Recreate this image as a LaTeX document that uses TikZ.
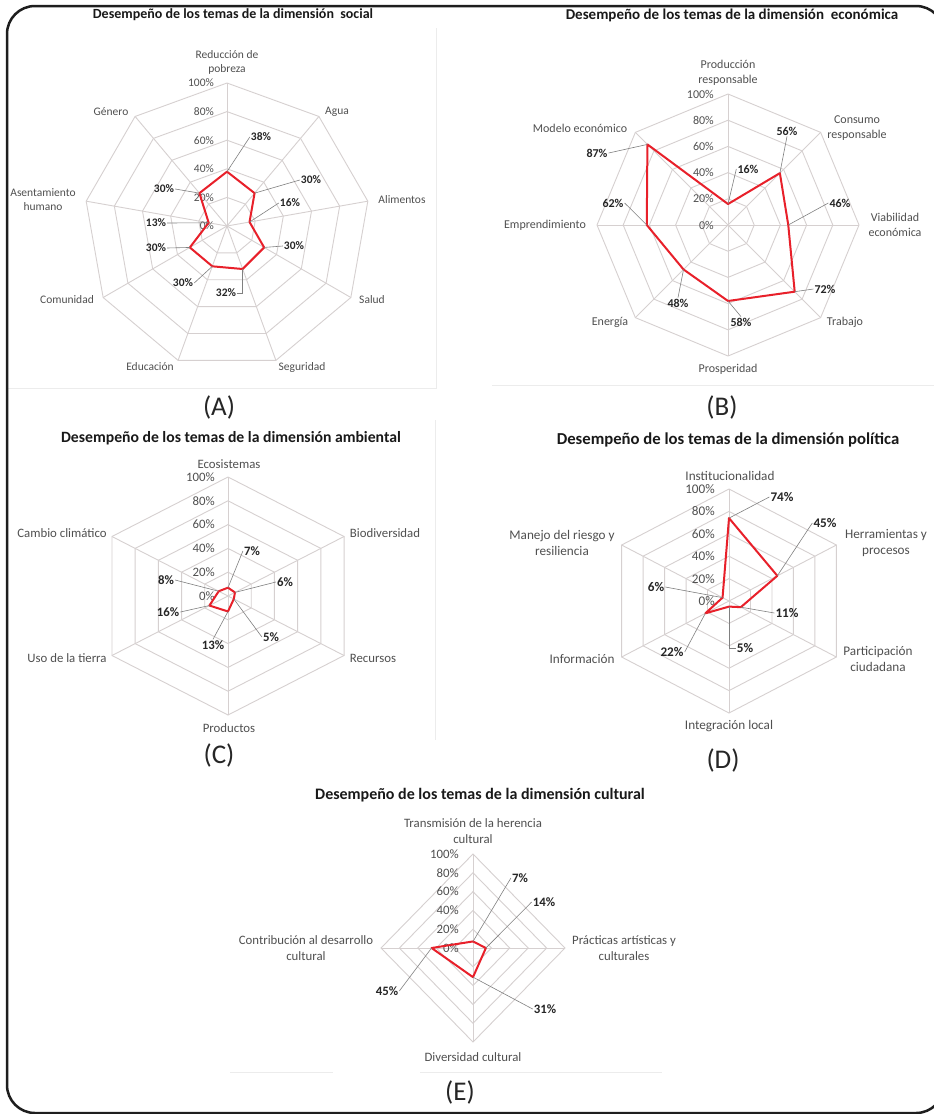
\documentclass[tikz,border=0pt]{standalone}
\usepackage{fontspec}
\setmainfont{Carlito}
\definecolor{webgray}{HTML}{D6D0D0}
\definecolor{labgray}{HTML}{505050}
\definecolor{leadgray}{HTML}{808080}
\definecolor{polyred}{HTML}{E8202A}
\definecolor{framegray}{HTML}{1E1E1E}
\definecolor{areagray}{HTML}{ECECEC}
\begin{document}
\begin{tikzpicture}[x=1pt, y=-1pt,
    webline/.style = {webgray, line width=0.9pt},
    datapoly/.style = {polyred, line width=2pt, line join=round},
    leader/.style = {leadgray, line width=0.6pt},
    axlab/.style = {text=labgray, align=center, inner sep=0pt, font=\fontsize{\fs}{\fb}\selectfont},
    ticklab/.style = {text=labgray, anchor=east, inner sep=0pt, font=\fontsize{\fs}{\fb}\selectfont},
    vallab/.style = {text=black!85, inner sep=1pt, font=\bfseries\fontsize{\fs}{\fb}\selectfont},
    ctitle/.style = {text=black!90, font=\bfseries\fontsize{#1}{#1}\selectfont},
    panel/.style = {text=black!85, font=\fontsize{27}{27}\selectfont}]
\clip (0,0) rectangle (934,1114);
\fill[white] (0,0) rectangle (934,1114);
\draw[areagray] (8,388) -- (436,388) -- (436,28);
\draw[areagray] (492,385) -- (934,385);
\draw[areagray] (435,420) -- (435,740);
\draw[areagray] (230,1072) -- (333,1072) (420,1072) -- (662,1072);
\draw[framegray, line width=2.5pt, rounded corners=28] (7,6) rectangle (944,1113);

% (A) social
\def\fs{11.5}\def\fb{14}
\node[ctitle=14] (tsoc) at (233,15) {Desempeño de los temas de la dimensión~ social};
\begin{scope}[shift={(227,226)}]
    \foreach \f in {0.2,0.4,0.6,0.8,1}
        \draw[webline] (0,{-143*\f}) \foreach \k in {1,...,8}{ -- ({143*\f*cos(40*\k-90)},{143*\f*sin(40*\k-90)})} -- cycle;
    \foreach \k in {0,...,8}
        \draw[webline] (0,0) -- ({143*cos(40*\k-90)},{143*sin(40*\k-90)});
    \foreach \v [count=\k from 0] in {38,30,16,30,32,30,30,13,30}
        \coordinate (s\k) at ({1.43*\v*cos(40*\k-90)},{1.43*\v*sin(40*\k-90)});
\end{scope}
\foreach \t in {0,20,...,100}
    \node[ticklab] at (214,{226-1.43*\t}) {\t\%};
\draw[datapoly] (s0) \foreach \k in {1,...,8}{ -- (s\k)} -- cycle;
\node[axlab] (sa0) at (227,62) {Reducción de\\pobreza};
\node[axlab] (sa1) at (337,112) {Agua};
\node[axlab] (sa2) at (402,200) {Alimentos};
\node[axlab] (sa3) at (372,300) {Salud};
\node[axlab] (sa4) at (302,367) {Seguridad};
\node[axlab] (sa5) at (150,367) {Educación};
\node[axlab] (sa6) at (67,300) {Comunidad};
\node[axlab] (sa7) at (43,200) {Asentamiento\\humano};
\node[axlab] (sa8) at (111,112) {Género};
\foreach \k/\x/\y/\v/\side in {0/261/137/38/west, 1/311/180/30/west, 2/290/203/16/west,
        3/294/246/30/west, 5/183/283/30/east, 6/156/248/30/east, 7/156/223/13/east, 8/164/189/30/east}{
    \node[vallab] (vs\k) at (\x,\y) {\v\%};
    \draw[leader] (s\k) -- (vs\k.\side);
}
\node[vallab] (vs4) at (226,293) {32\%};
\draw[leader] (s4) |- (vs4.east);
\node[panel] (pA) at (219,407) {(A)};

% (B) economica
\def\fs{12}\def\fb{15}
\node[ctitle=15] (teco) at (732,15) {Desempeño de los temas de la dimensión~ económica};
\begin{scope}[shift={(728,225)}]
    \foreach \f in {0.2,0.4,0.6,0.8,1}
        \draw[webline] (0,{-131*\f}) \foreach \k in {1,...,7}{ -- ({131*\f*cos(45*\k-90)},{131*\f*sin(45*\k-90)})} -- cycle;
    \foreach \k in {0,...,7}
        \draw[webline] (0,0) -- ({131*cos(45*\k-90)},{131*sin(45*\k-90)});
    \foreach \v [count=\k from 0] in {16,56,46,72,58,48,62,87}
        \coordinate (e\k) at ({1.31*\v*cos(45*\k-90)},{1.31*\v*sin(45*\k-90)});
\end{scope}
\foreach \t in {0,20,...,100}
    \node[ticklab] at (714,{225-1.31*\t}) {\t\%};
\draw[datapoly] (e0) \foreach \k in {1,...,7}{ -- (e\k)} -- cycle;
\node[axlab] (ea0) at (728,73) {Producción\\responsable};
\node[axlab] (ea1) at (857,128) {Consumo\\responsable};
\node[axlab] (ea2) at (895,225) {Viabilidad\\económica};
\node[axlab] (ea3) at (845,322) {Trabajo};
\node[axlab] (ea4) at (728,369) {Prosperidad};
\node[axlab] (ea5) at (610,322) {Energía};
\node[axlab] (ea6) at (545,225) {Emprendimiento};
\node[axlab] (ea7) at (580,128) {Modelo económico};
\foreach \k/\x/\y/\v/\side in {0/748/169/16/west, 1/787/131/56/south, 2/840/203/46/west, 3/825/289/72/west,
        4/741/322/58/north, 5/678/303/48/north, 6/613/203/62/east, 7/597/153/87/east}{
    \node[vallab] (ve\k) at (\x,\y) {\v\%};
    \draw[leader] (e\k) -- (ve\k.\side);
}
\node[panel] (pB) at (722,407) {(B)};

% (C) ambiental
\def\fs{12.8}\def\fb{15.5}
\node[ctitle=15.7] (tamb) at (231,438) {Desempeño de los temas de la dimensión ambiental};
\begin{scope}[shift={(228,596)}]
    \foreach \f in {0.2,0.4,0.6,0.8,1}
        \draw[webline] (0,{-119*\f}) \foreach \k in {1,...,5}{ -- ({134*\f*cos(60*\k-90)},{119*\f*sin(60*\k-90)})} -- cycle;
    \foreach \k in {0,...,5}
        \draw[webline] (0,0) -- ({134*cos(60*\k-90)},{119*sin(60*\k-90)});
    \foreach \v [count=\k from 0] in {7,6,5,13,16,8}
        \coordinate (am\k) at ({1.34*\v*cos(60*\k-90)},{1.19*\v*sin(60*\k-90)});
\end{scope}
\foreach \t in {0,20,...,100}
    \node[ticklab] at (215,{596-1.19*\t}) {\t\%};
\draw[datapoly] (am0) \foreach \k in {1,...,5}{ -- (am\k)} -- cycle;
\node[axlab] (ama0) at (229,464) {Ecosistemas};
\node[axlab] (ama1) at (385,533) {Biodiversidad};
\node[axlab] (ama2) at (373,658) {Recursos};
\node[axlab] (ama3) at (229,728) {Productos};
\node[axlab] (ama4) at (67,658) {Uso de la tierra};
\node[axlab] (ama5) at (62,533) {Cambio climático};
\foreach \k/\x/\y/\v/\side in {0/252/551/7/west, 1/285/582/6/west, 2/271/637/5/west,
        3/213/645/13/north, 4/168/612/16/east, 5/166/580/8/east}{
    \node[vallab] (vam\k) at (\x,\y) {\v\%};
    \draw[leader] (am\k) -- (vam\k.\side);
}
\node[panel] (pC) at (219,755) {(C)};

% (D) politica
\def\fs{13.2}\def\fb{16}
\node[ctitle=16.7] (tpol) at (728,440) {Desempeño de los temas de la dimensión política};
\begin{scope}[shift={(729,601)}]
    \foreach \f in {0.2,0.4,0.6,0.8,1}
        \draw[webline] (0,{-112*\f}) \foreach \k in {1,...,5}{ -- ({124*\f*cos(60*\k-90)},{112*\f*sin(60*\k-90)})} -- cycle;
    \foreach \k in {0,...,5}
        \draw[webline] (0,0) -- ({124*cos(60*\k-90)},{112*sin(60*\k-90)});
    \foreach \v [count=\k from 0] in {74,45,11,5,22,6}
        \coordinate (po\k) at ({1.24*\v*cos(60*\k-90)},{1.12*\v*sin(60*\k-90)});
\end{scope}
\foreach \t in {0,20,...,100}
    \node[ticklab] at (715,{601-1.12*\t}) {\t\%};
\draw[datapoly] (po0) \foreach \k in {1,...,5}{ -- (po\k)} -- cycle;
\node[axlab] (poa0) at (730,476) {Institucionalidad};
\node[axlab] (poa1) at (886,543) {Herramientas y\\procesos};
\node[axlab] (poa2) at (878,659) {Participación\\ciudadana};
\node[axlab] (poa3) at (729,726) {Integración local};
\node[axlab] (poa4) at (582,659) {Información};
\node[axlab] (poa5) at (562,543) {Manejo del riesgo y\\resiliencia};
\foreach \k/\x/\y/\v/\side in {0/782/497/74/west, 1/825/523/45/west, 2/787/613/11/west,
        4/672/652/22/east, 5/656/587/6/east}{
    \node[vallab] (vpo\k) at (\x,\y) {\v\%};
    \draw[leader] (po\k) -- (vpo\k.\side);
}
\node[vallab] (vpo3) at (745,648) {5\%};
\draw[leader] (po3) |- (vpo3.west);
\node[panel] (pD) at (723,760) {(D)};

% (E) cultural
\def\fs{12.8}\def\fb{16.5}
\node[ctitle=16] (tcul) at (480,795) {Desempeño de los temas de la dimensión cultural};
\begin{scope}[shift={(473,948)}]
    \foreach \f in {0.2,0.4,0.6,0.8,1}
        \draw[webline] (0,{-94*\f}) -- ({92*\f},0) -- (0,{94*\f}) -- ({-92*\f},0) -- cycle;
    \draw[webline] (0,-94) -- (0,94) (-92,0) -- (92,0);
    \foreach \v [count=\k from 0] in {7,14,31,45}
        \coordinate (cu\k) at ({0.92*\v*cos(90*\k-90)},{0.94*\v*sin(90*\k-90)});
\end{scope}
\foreach \t in {0,20,...,100}
    \node[ticklab] at (459,{948-0.94*\t}) {\t\%};
\draw[datapoly] (cu0) -- (cu1) -- (cu2) -- (cu3) -- cycle;
\node[axlab] (cua0) at (473,831) {Transmisión de la herencia\\cultural};
\node[axlab] (cua1) at (624,948) {Prácticas artísticas y\\culturales};
\node[axlab] (cua2) at (473,1057) {Diversidad cultural};
\node[axlab] (cua3) at (306,948) {Contribución al desarrollo\\cultural};
\foreach \k/\x/\y/\v/\side in {0/520/878/7/west, 1/544/902/14/west, 2/545/1009/31/west, 3/387/991/45/east}{
    \node[vallab] (vcu\k) at (\x,\y) {\v\%};
    \draw[leader] (cu\k) -- (vcu\k.\side);
}
\node[panel] (pE) at (460,1092) {(E)};
\end{tikzpicture}
\end{document}
